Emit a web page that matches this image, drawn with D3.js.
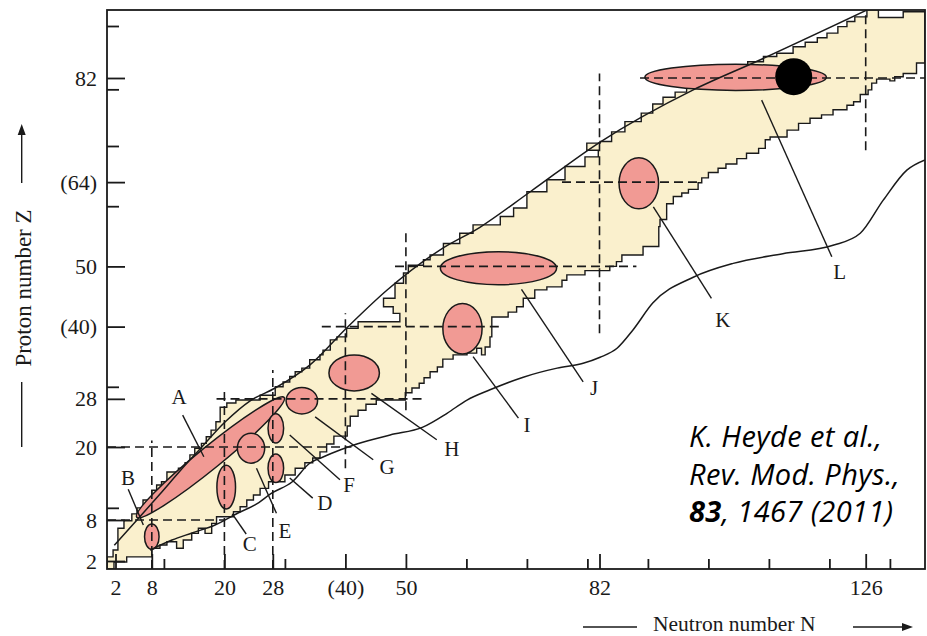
<!DOCTYPE html>
<html>
<head>
<meta charset="utf-8">
<script src="https://cdn.jsdelivr.net/npm/d3@7"></script>
<style>
  html, body { margin: 0; padding: 0; background: #fff; }
  svg { display: block; }
</style>
</head>
<body>
<div id="chart"></div>
<script>
// axis ticks
const nMajor = [2, 8, 20, 28, 40, 50, 82, 126];
const nMajorLabels = ["2", "8", "20", "28", "(40)", "50", "82", "126"];
const nMinor = [10, 30, 60, 70, 80, 90, 100, 110, 120, 130];
const zMajor = [2, 8, 20, 28, 40, 50, 64, 82];
const zMajorLabels = ["2", "8", "20", "28", "(40)", "50", "(64)", "82"];
const zMinor = [10, 30, 60, 70, 80, 90];

// band of known nuclei, edges as steps: [N, Z] = move along N to this N, then along Z to this Z
const bandUpper = [
  [0.6, 0.83], [0.6, 2.6], [1.6, 3.6], [2.4, 6.8], [3.4, 7.9], [4.7, 9.0], [5.55, 10.0], [6.55, 11.3],
  [8.0, 12.9], [8.8, 13.75], [9.6, 14.3], [10.5, 15.9], [12.4, 16.5], [13.5, 17.4], [14.3, 18.7],
  [15.1, 19.8], [16.2, 20.6], [17.0, 21.7], [17.8, 22.8], [18.6, 24.2], [19.3, 26.6], [20.4, 27.3],
  [21.9, 27.8], [25.9, 28.6], [28.4, 30.0], [29.7, 30.8], [30.8, 31.7], [31.7, 32.5], [32.8, 33.1],
  [34.1, 34.5], [35.8, 35.3], [36.3, 36.1], [37.5, 37.8], [38.6, 38.3], [40.2, 39.7], [42.1, 40.8],
  [49.0, 42.2], [47.9, 43.3], [46.3, 44.7], [48.2, 47.2], [49.6, 48.9], [50.4, 50.2], [52.9, 51.1],
  [54.0, 51.9], [56.2, 53.8], [58.9, 55.5], [61.1, 56.9], [65.6, 58.3], [67.8, 59.7], [70.0, 62.4],
  [73.3, 64.4], [76.3, 66.6], [79.6, 68.2], [81.8, 69.3], [79.9, 70.5], [82.1, 70.8], [84.0, 72.5],
  [86.2, 74.3], [88.9, 75.8], [90.8, 77.4], [92.5, 78.6], [94.5, 79.5], [96.4, 80.4], [98.1, 81.3],
  [100.3, 82.15], [102.4, 82.9], [104.6, 83.7], [106.5, 84.5], [109.1, 85.3], [111.3, 85.8],
  [114.0, 86.8], [116.0, 87.5], [118.0, 88.2], [119.6, 88.9], [121.4, 89.9], [122.9, 90.7],
  [124.2, 91.4], [126.2, 92.5], [128.1, 91.3], [132.2, 92.2], [135.8, 84.3]
];
const bandLower = [
  [0.6, 0.83], [1.75, 1.85], [3.85, 2.6], [8.0, 3.86], [9.35, 4.34], [10.5, 4.82], [12.1, 3.86],
  [13.2, 5.07], [14.6, 6.05], [15.7, 6.79], [16.8, 6.05], [17.9, 7.51], [18.7, 8.54], [21.5, 9.36],
  [22.6, 10.19], [23.7, 11.3], [24.8, 12.1], [25.9, 13.2], [27.3, 14.3], [30.0, 15.4], [31.7, 16.5],
  [33.3, 17.4], [34.6, 18.2], [35.8, 19.2], [36.9, 20.5], [38.1, 21.8], [40.3, 23.5], [40.8, 25.1],
  [42.1, 26.1], [43.4, 27.1], [45.1, 27.8], [49.9, 29.0], [51.0, 29.8], [52.2, 30.6], [53.0, 31.5],
  [54.0, 32.5], [55.2, 33.3], [56.1, 34.6], [57.8, 35.3], [60.1, 35.6], [61.7, 36.4], [62.5, 35.3],
  [63.1, 36.6], [63.9, 38.3], [64.2, 41.6], [66.9, 42.4], [68.3, 43.3], [69.4, 44.7], [71.3, 46.1],
  [73.3, 46.6], [75.8, 47.7], [76.6, 48.6], [79.6, 49.3], [83.7, 50.0], [84.8, 50.8], [85.7, 51.9],
  [89.2, 53.3], [91.8, 56.6], [92.0, 57.8], [93.1, 60.4], [94.2, 61.6], [95.6, 62.2], [96.7, 62.8],
  [98.3, 63.9], [98.9, 64.7], [100.0, 65.6], [101.6, 66.3], [102.9, 67.0], [104.7, 67.9],
  [106.3, 68.8], [108.3, 69.6], [109.4, 71.1], [110.2, 71.6], [113.0, 72.8], [114.9, 74.0],
  [116.8, 74.9], [118.7, 75.5], [120.6, 76.4], [122.9, 77.2], [124.0, 77.8], [125.1, 79.1],
  [126.4, 79.9], [127.0, 81.1], [127.8, 81.8], [130.0, 81.5], [130.8, 82.2], [132.2, 82.7],
  [134.4, 84.3], [135.8, 84.3]
];

// smooth limit lines
const protonLine = [
  [1.8, 4.3], [5.55, 8.0], [9.36, 12.27], [12.66, 16.06], [15.97, 19.67], [20.1, 24.15], [24.2, 27.64],
  [28.4, 29.8], [34.1, 33.6], [40.2, 39.77], [46.9, 46.08], [55.6, 52.72], [62.3, 56.54],
  [70.5, 62.36], [82.1, 70.7], [97.5, 79.9], [108.5, 84.77], [126.2, 92.46]
];
const neutronLine = [
  [7.7, 3.6], [11.34, 5.07], [14.64, 6.1], [18.45, 7.27], [22.25, 9.15], [25.06, 10.47], [27.87, 12.44],
  [31.17, 14.25], [34.15, 17.37], [36.3, 18.36], [39.1, 19.5], [41.9, 20.5], [47.4, 22.0], [52.8, 23.3],
  [56.8, 25.6], [60.1, 27.8], [63.9, 29.5], [69.4, 31.6], [75.0, 33.1], [79.3, 33.9], [82.1, 34.9],
  [84.9, 36.4], [87.5, 39.4], [90.8, 43.9], [97.5, 48.2], [104.1, 50.5], [112.3, 52.1], [120.6, 53.5],
  [125.1, 55.5], [128.9, 61.0], [132.8, 66.0], [135.8, 67.7]
];

// magic number guide lines
const magicRows = [
  { z: 8, n0: 0.6, n1: 20 }, { z: 20, n0: 0.6, n1: 41 }, { z: 28, n0: 18.7, n1: 53.4 },
  { z: 40, n0: 36.1, n1: 66.1 }, { z: 50, n0: 48.2, n1: 88.1 }, { z: 64, n0: 75.8, n1: 98.6 },
  { z: 82, n0: 88.7, n1: 135.8 }
];
const magicCols = [
  { n: 8, z0: 0.83, z1: 21.1 }, { n: 20, z0: 0.83, z1: 29.5 }, { n: 28, z0: 0.83, z1: 32.8 },
  { n: 40, z0: 16.5, z1: 42.2 }, { n: 50, z0: 26.1, z1: 56.0 }, { n: 82, z0: 38.9, z1: 82.7 },
  { n: 126, z0: 69.3, z1: 92.5 }
];

// regions (centre N, Z, half axes in N / Z units, rotation)
const regions = [
  { id: "A", n: 17.7, z: 18.3, rn: 15.7, rz: 1.83, angle: -39.1 },
  { id: "B", n: 8.0, z: 5.56, rn: 1.2, rz: 1.86, angle: 0 },
  { id: "C", n: 20.3, z: 13.4, rn: 1.54, rz: 3.6, angle: 0 },
  { id: "D", n: 28.5, z: 16.5, rn: 1.29, rz: 2.35, angle: 0 },
  { id: "E", n: 24.4, z: 19.8, rn: 2.26, rz: 2.47, angle: 0 },
  { id: "F", n: 28.5, z: 23.1, rn: 1.29, rz: 2.44, angle: 0 },
  { id: "G", n: 32.8, z: 27.7, rn: 2.6, rz: 2.2, angle: 0 },
  { id: "H", n: 41.45, z: 32.3, rn: 4.17, rz: 3.0, angle: 0 },
  { id: "I", n: 59.35, z: 39.65, rn: 3.24, rz: 4.19, angle: 0 },
  { id: "J", n: 65.3, z: 49.7, rn: 9.6, rz: 2.74, angle: 0 },
  { id: "K", n: 88.5, z: 63.8, rn: 3.27, rz: 4.24, angle: 0 },
  { id: "L", n: 104.5, z: 82.1, rn: 15.0, rz: 2.14, angle: 0 }
];
// leader lines and letter positions
const leaders = [
  { id: "A", n0: 13.1, z0: 25.3, n1: 16.6, z1: 18.4, ln: 12.5, lz: 28.3 },
  { id: "B", n0: 4.1, z0: 13.05, n1: 6.6, z1: 7.27, ln: 4.07, lz: 14.9 },
  { id: "C", n0: 21.3, z0: 9.0, n1: 23.6, z1: 5.95, ln: 24.2, lz: 4.5 },
  { id: "D", n0: 30.8, z0: 14.9, n1: 34.6, z1: 11.6, ln: 36.6, lz: 10.8 },
  { id: "E", n0: 25.3, z0: 16.5, n1: 28.6, z1: 9.1, ln: 30.0, lz: 6.5 },
  { id: "F", n0: 30.8, z0: 22.0, n1: 39.1, z1: 14.6, ln: 40.6, lz: 13.75 },
  { id: "G", n0: 35.0, z0: 25.0, n1: 44.6, z1: 17.9, ln: 46.9, lz: 16.7 },
  { id: "H", n0: 44.3, z0: 28.9, n1: 55.1, z1: 21.2, ln: 57.6, lz: 19.7 },
  { id: "I", n0: 61.1, z0: 35.0, n1: 68.6, z1: 24.8, ln: 70.0, lz: 23.65 },
  { id: "J", n0: 69.1, z0: 46.2, n1: 79.3, z1: 30.8, ln: 81.1, lz: 29.8 },
  { id: "K", n0: 90.9, z0: 59.9, n1: 100.5, z1: 44.7, ln: 102.4, lz: 41.1 },
  { id: "L", n0: 108.8, z0: 78.1, n1: 120.4, z1: 51.6, ln: 121.7, lz: 49.07 }
];
const bigDot = { n: 114.1, z: 82.2, rn: 3.06 };

const citation = ["K. Heyde et al.,", "Rev. Mod. Phys.,", "83", ", 1467 (2011)"];

// ---- layout ----
const W = 927, H = 636;
const frame = { left: 107, right: 925, top: 10, bottom: 569 };
const serif = "'Liberation Serif', 'Times New Roman', serif";
const ink = "#1a1a1a";

const svg = d3.select("#chart").append("svg")
  .attr("width", W).attr("height", H);

const x = d3.scaleLinear().domain([0, 136]).range([103.4, 926.2]);
const y = d3.scaleLinear().domain([2, 8, 20, 70, 82, 93]).range([561, 520, 447, 146, 78, 6.5]);

svg.append("clipPath").attr("id", "plot-clip")
  .append("rect")
  .attr("x", frame.left).attr("y", frame.top)
  .attr("width", frame.right - frame.left).attr("height", frame.bottom - frame.top);

const plot = svg.append("g").attr("clip-path", "url(#plot-clip)");

// step list -> polygon corners
function stepVertices(steps) {
  const v = [steps[0]];
  for (let i = 1; i < steps.length; i++) {
    v.push([steps[i][0], steps[i - 1][1]]);
    v.push(steps[i]);
  }
  return v;
}
const bandPoly = stepVertices(bandUpper).concat(stepVertices(bandLower).reverse());
const polyLine = d3.line().x(d => x(d[0])).y(d => y(d[1]));

plot.append("path")
  .attr("d", polyLine(bandPoly) + "Z")
  .attr("fill", "#faf0cd")
  .attr("stroke", ink)
  .attr("stroke-width", 1.4)
  .attr("stroke-linejoin", "miter");

// pink regions
plot.selectAll(".region")
  .data(regions)
  .enter()
  .append("ellipse")
  .attr("class", "region")
  .attr("transform", d => `translate(${x(d.n)},${y(d.z)}) rotate(${d.angle})`)
  .attr("rx", d => (x(d.n + d.rn) - x(d.n - d.rn)) / 2)
  .attr("ry", d => (y(d.z - d.rz) - y(d.z + d.rz)) / 2)
  .attr("fill", "#f19a94")
  .attr("stroke", ink)
  .attr("stroke-width", 1.5);

// dashed magic-number lines
plot.selectAll(".magic-row")
  .data(magicRows)
  .enter()
  .append("line")
  .attr("x1", d => x(d.n0)).attr("x2", d => x(d.n1))
  .attr("y1", d => y(d.z)).attr("y2", d => y(d.z))
  .attr("stroke", ink).attr("stroke-width", 1.6)
  .attr("stroke-dasharray", "9,5");

plot.selectAll(".magic-col")
  .data(magicCols)
  .enter()
  .append("line")
  .attr("x1", d => x(d.n)).attr("x2", d => x(d.n))
  .attr("y1", d => y(d.z0)).attr("y2", d => y(d.z1))
  .attr("stroke", ink).attr("stroke-width", 1.6)
  .attr("stroke-dasharray", "9,5");

// drip lines
const smooth = d3.line().x(d => x(d[0])).y(d => y(d[1])).curve(d3.curveMonotoneX);
[protonLine, neutronLine].forEach(pts => {
  plot.append("path")
    .attr("d", smooth(pts))
    .attr("fill", "none")
    .attr("stroke", ink)
    .attr("stroke-width", 1.5);
});

// leader lines
plot.selectAll(".leader")
  .data(leaders)
  .enter()
  .append("line")
  .attr("x1", d => x(d.n0)).attr("y1", d => y(d.z0))
  .attr("x2", d => x(d.n1)).attr("y2", d => y(d.z1))
  .attr("stroke", ink).attr("stroke-width", 1.4);

plot.selectAll(".letter")
  .data(leaders)
  .enter()
  .append("text")
  .attr("x", d => x(d.ln)).attr("y", d => y(d.lz))
  .attr("dy", "0.35em")
  .attr("text-anchor", "middle")
  .attr("font-family", serif)
  .attr("font-size", 21)
  .attr("fill", ink)
  .text(d => d.id);

// doubly magic dot
plot.append("circle")
  .attr("cx", x(bigDot.n)).attr("cy", y(bigDot.z))
  .attr("r", x(bigDot.n + bigDot.rn) - x(bigDot.n))
  .attr("fill", "#000");

// axes
const nLabel = new Map(nMajor.map((v, i) => [v, nMajorLabels[i]]));
const zLabel = new Map(zMajor.map((v, i) => [v, zMajorLabels[i]]));

function styleAxis(g) {
  g.select(".domain").remove();
  g.selectAll(".tick line").attr("stroke", ink).attr("stroke-width", 1.8);
  g.selectAll(".tick text")
    .attr("font-family", serif)
    .attr("font-size", 22)
    .attr("fill", ink);
}

svg.append("g")
  .attr("transform", `translate(0,${frame.bottom})`)
  .call(d3.axisBottom(x).tickValues(nMinor).tickSize(-10).tickFormat(""))
  .call(styleAxis);
svg.append("g")
  .attr("transform", `translate(0,${frame.bottom})`)
  .call(d3.axisBottom(x).tickValues(nMajor).tickSize(-15).tickPadding(10).tickFormat(d => nLabel.get(d)))
  .call(styleAxis);

svg.append("g")
  .attr("transform", `translate(${frame.left},0)`)
  .call(d3.axisLeft(y).tickValues(zMinor).tickSize(-12).tickFormat(""))
  .call(styleAxis);
svg.append("g")
  .attr("transform", `translate(${frame.left},0)`)
  .call(d3.axisLeft(y).tickValues(zMajor).tickSize(-18).tickPadding(10).tickFormat(d => zLabel.get(d)))
  .call(styleAxis);

// frame
svg.append("rect")
  .attr("x", frame.left).attr("y", frame.top)
  .attr("width", frame.right - frame.left).attr("height", frame.bottom - frame.top)
  .attr("fill", "none").attr("stroke", ink).attr("stroke-width", 1.8);

// axis titles with rules and arrows
svg.append("text")
  .attr("x", 653).attr("y", 631)
  .attr("font-family", serif).attr("font-size", 21.5).attr("fill", ink)
  .text("Neutron number N");
svg.append("line").attr("x1", 583).attr("x2", 637).attr("y1", 627).attr("y2", 627)
  .attr("stroke", ink).attr("stroke-width", 1.4);
svg.append("line").attr("x1", 853).attr("x2", 904).attr("y1", 627).attr("y2", 627)
  .attr("stroke", ink).attr("stroke-width", 1.4);
svg.append("path").attr("d", "M913,627 L902,623 L902,631 Z").attr("fill", ink);

svg.append("text")
  .attr("transform", "translate(31,288) rotate(-90)")
  .attr("text-anchor", "middle")
  .attr("font-family", serif).attr("font-size", 23).attr("fill", ink)
  .text("Proton number Z");
svg.append("line").attr("x1", 21.7).attr("x2", 21.7).attr("y1", 382).attr("y2", 447)
  .attr("stroke", ink).attr("stroke-width", 1.4);
svg.append("line").attr("x1", 21.7).attr("x2", 21.7).attr("y1", 183).attr("y2", 134)
  .attr("stroke", ink).attr("stroke-width", 1.4);
svg.append("path").attr("d", "M21.7,124 L17.7,135 L25.7,135 Z").attr("fill", ink);

// citation
const cite = svg.append("text")
  .attr("font-family", "'Open Sans', sans-serif")
  .attr("font-style", "italic")
  .attr("font-size", 29)
  .attr("letter-spacing", 0.4)
  .attr("fill", "#000");
cite.append("tspan").attr("x", 689).attr("y", 447).text(citation[0]);
cite.append("tspan").attr("x", 689).attr("y", 484.5).text(citation[1]);
cite.append("tspan").attr("x", 689).attr("y", 522).attr("font-weight", "bold").text(citation[2]);
cite.append("tspan").text(citation[3]);
</script>
</body>
</html>
